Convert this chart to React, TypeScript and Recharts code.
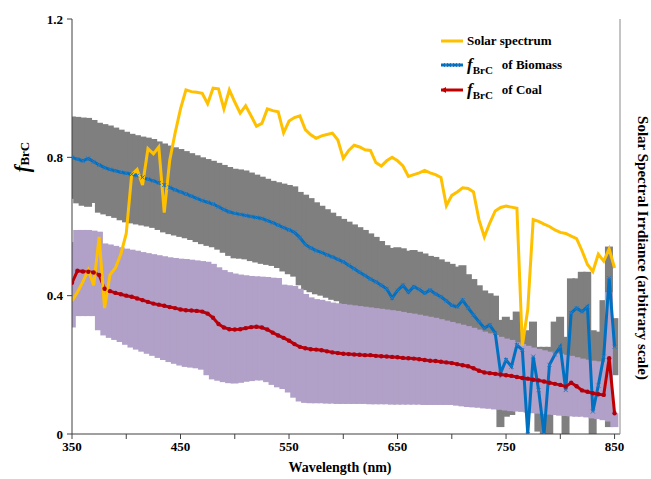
import { ComposedChart, Bar, Line, XAxis, YAxis } from 'recharts'

// wavelength grid (nm)
const WAVELENGTHS = [
  350, 355, 360, 365, 370, 375, 380, 385, 390, 395, 400, 405, 410, 415, 420, 425, 430, 435, 440, 445,
  450, 455, 460, 465, 470, 475, 480, 485, 490, 495, 500, 505, 510, 515, 520, 525, 530, 535, 540, 545,
  550, 555, 560, 565, 570, 575, 580, 585, 590, 595, 600, 605, 610, 615, 620, 625, 630, 635, 640, 645,
  650, 655, 660, 665, 670, 675, 680, 685, 690, 695, 700, 705, 710, 715, 720, 725, 730, 735, 740, 745,
  750, 755, 760, 765, 770, 775, 780, 785, 790, 795, 800, 805, 810, 815, 820, 825, 830, 835, 840, 845,
  850,
]

// solar spectrum, arbitrary scale (right axis)
const SOLAR = [
  0.385, 0.41, 0.44, 0.474, 0.43, 0.57, 0.364, 0.46, 0.48, 0.52, 0.58, 0.75, 0.765, 0.72, 0.825, 0.81, 0.83, 0.64, 0.79, 0.87,
  0.94, 0.995, 0.99, 0.988, 0.985, 0.955, 1.0, 0.998, 0.94, 0.995, 0.96, 0.928, 0.949, 0.92, 0.89, 0.898, 0.94, 0.935, 0.932, 0.871,
  0.905, 0.915, 0.92, 0.88, 0.865, 0.855, 0.862, 0.866, 0.87, 0.85, 0.797, 0.82, 0.835, 0.83, 0.822, 0.82, 0.785, 0.775, 0.79, 0.8,
  0.79, 0.775, 0.745, 0.75, 0.755, 0.762, 0.755, 0.75, 0.742, 0.66, 0.69, 0.7, 0.712, 0.71, 0.7, 0.62, 0.57, 0.61, 0.645, 0.655,
  0.659, 0.656, 0.653, 0.255, 0.36, 0.62, 0.615, 0.607, 0.6, 0.59, 0.583, 0.58, 0.572, 0.565, 0.53, 0.49, 0.47, 0.52, 0.5, 0.535,
  0.48,
]

// fBrC of biomass
const BIOMASS = [
  0.8, 0.795, 0.79, 0.797, 0.787, 0.778, 0.77, 0.765, 0.761, 0.757, 0.754, 0.751, 0.747, 0.742, 0.737, 0.732, 0.726, 0.72, 0.713, 0.706,
  0.7, 0.694, 0.688, 0.681, 0.675, 0.67, 0.665, 0.657, 0.649, 0.642, 0.638, 0.635, 0.632, 0.629, 0.626, 0.623, 0.617, 0.611, 0.604, 0.597,
  0.59, 0.583, 0.568, 0.548, 0.538, 0.53, 0.525, 0.518, 0.512, 0.505, 0.498, 0.488, 0.478, 0.468, 0.458, 0.448, 0.44, 0.43, 0.42, 0.393,
  0.415, 0.43, 0.41, 0.426, 0.418, 0.407, 0.416, 0.405, 0.397, 0.385, 0.372, 0.368, 0.387, 0.365, 0.344, 0.325, 0.306, 0.315, 0.292, 0.176,
  0.214, 0.195, 0.257, 0.243, 0.0, 0.224, 0.127, 0.0, 0.2, 0.23, 0.252, 0.127, 0.35, 0.364, 0.354, 0.368, 0.065, 0.14, 0.224, 0.451,
  0.252,
]

// fBrC of coal
const COAL = [
  0.437, 0.472, 0.47, 0.469, 0.467, 0.46, 0.42, 0.413, 0.408, 0.404, 0.4, 0.397, 0.392, 0.387, 0.382, 0.377, 0.374, 0.371, 0.367, 0.364,
  0.36, 0.358, 0.357, 0.356, 0.354, 0.348, 0.336, 0.318, 0.308, 0.303, 0.302, 0.303, 0.306, 0.309, 0.31, 0.308, 0.302, 0.293, 0.285, 0.278,
  0.27, 0.26, 0.252, 0.248, 0.245, 0.244, 0.242, 0.239, 0.236, 0.234, 0.232, 0.231, 0.23, 0.229, 0.228, 0.228, 0.226, 0.225, 0.224, 0.223,
  0.222, 0.22, 0.219, 0.218, 0.216, 0.214, 0.212, 0.211, 0.209, 0.207, 0.205, 0.202, 0.199, 0.196, 0.19, 0.183, 0.178, 0.176, 0.174, 0.172,
  0.17, 0.168, 0.165, 0.162, 0.16, 0.157, 0.155, 0.152, 0.148, 0.145, 0.142, 0.137, 0.148, 0.138, 0.126, 0.122, 0.118, 0.115, 0.113, 0.219,
  0.06,
]

// uncertainty range of biomass (grey)
const BIOMASS_HIGH = [
  0.918, 0.917, 0.915, 0.914, 0.908, 0.9, 0.896, 0.892, 0.886, 0.88, 0.874, 0.868, 0.864, 0.86, 0.857, 0.853, 0.846, 0.84, 0.834, 0.829,
  0.824, 0.818, 0.812, 0.806, 0.8, 0.795, 0.79, 0.784, 0.778, 0.772, 0.767, 0.765, 0.762, 0.756, 0.75, 0.744, 0.738, 0.732, 0.728, 0.724,
  0.72, 0.716, 0.7, 0.692, 0.682, 0.67, 0.66, 0.65, 0.64, 0.63, 0.622, 0.614, 0.606, 0.598, 0.59, 0.58, 0.57, 0.558, 0.546, 0.538,
  0.54, 0.537, 0.53, 0.532, 0.527, 0.522, 0.515, 0.512, 0.505, 0.498, 0.492, 0.484, 0.488, 0.462, 0.448, 0.43, 0.415, 0.407, 0.4, 0.33,
  0.339, 0.33, 0.354, 0.3, 0.3, 0.325, 0.252, 0.252, 0.252, 0.325, 0.339, 0.281, 0.45, 0.45, 0.469, 0.469, 0.3, 0.296, 0.387, 0.542,
  0.335,
]
const BIOMASS_LOW = [
  0.68, 0.667, 0.66, 0.657, 0.668, 0.64, 0.635, 0.63, 0.625, 0.618, 0.612, 0.609, 0.606, 0.603, 0.6, 0.596, 0.59, 0.583, 0.578, 0.574,
  0.57, 0.566, 0.561, 0.555, 0.549, 0.544, 0.54, 0.533, 0.524, 0.515, 0.508, 0.507, 0.505, 0.5, 0.496, 0.492, 0.489, 0.486, 0.48, 0.47,
  0.462, 0.455, 0.43, 0.416, 0.41, 0.404, 0.4, 0.394, 0.388, 0.384, 0.36, 0.356, 0.352, 0.348, 0.344, 0.34, 0.336, 0.332, 0.328, 0.324,
  0.32, 0.316, 0.312, 0.308, 0.304, 0.3, 0.296, 0.292, 0.286, 0.28, 0.274, 0.268, 0.262, 0.256, 0.25, 0.244, 0.238, 0.232, 0.226, 0.02,
  0.05, 0.055, 0.12, 0.12, 0.1, 0.1, 0.007, 0.0, 0.0, 0.1, 0.1, 0.0, 0.1, 0.1, 0.1, 0.1, 0.0, 0.1, 0.1, 0.02,
  0.17,
]

// uncertainty range of coal (lavender)
const COAL_HIGH = [
  0.555, 0.59, 0.59, 0.59, 0.588, 0.585, 0.551, 0.548, 0.544, 0.54, 0.536, 0.533, 0.53, 0.526, 0.523, 0.52, 0.517, 0.514, 0.511, 0.509,
  0.507, 0.506, 0.504, 0.502, 0.5, 0.498, 0.492, 0.482, 0.474, 0.468, 0.464, 0.461, 0.459, 0.457, 0.456, 0.455, 0.454, 0.452, 0.451, 0.432,
  0.43, 0.428, 0.42, 0.405, 0.395, 0.39, 0.388, 0.384, 0.38, 0.378, 0.376, 0.374, 0.372, 0.37, 0.368, 0.366, 0.364, 0.362, 0.36, 0.358,
  0.356, 0.353, 0.35, 0.348, 0.345, 0.342, 0.339, 0.336, 0.332, 0.328, 0.324, 0.32, 0.316, 0.312, 0.307, 0.302, 0.296, 0.291, 0.286, 0.281,
  0.276, 0.272, 0.265, 0.26, 0.255, 0.25, 0.246, 0.242, 0.238, 0.235, 0.232, 0.229, 0.226, 0.222, 0.218, 0.215, 0.212, 0.21, 0.208, 0.41,
  0.06,
]
const COAL_LOW = [
  0.308, 0.341, 0.341, 0.341, 0.341, 0.3, 0.285, 0.278, 0.272, 0.266, 0.258, 0.25, 0.244, 0.238, 0.232, 0.226, 0.22, 0.214, 0.208, 0.203,
  0.198, 0.194, 0.192, 0.19, 0.186, 0.17, 0.158, 0.154, 0.15, 0.147, 0.146, 0.148, 0.151, 0.153, 0.155, 0.155, 0.15, 0.142, 0.135, 0.13,
  0.12, 0.105, 0.094, 0.09, 0.089, 0.089, 0.089, 0.088, 0.088, 0.087, 0.087, 0.087, 0.087, 0.087, 0.087, 0.086, 0.086, 0.086, 0.086, 0.085,
  0.085, 0.085, 0.085, 0.085, 0.085, 0.084, 0.084, 0.084, 0.084, 0.084, 0.084, 0.082, 0.08, 0.078, 0.077, 0.076, 0.074, 0.073, 0.071, 0.07,
  0.068, 0.066, 0.065, 0.064, 0.062, 0.06, 0.059, 0.058, 0.056, 0.055, 0.053, 0.052, 0.051, 0.05, 0.05, 0.048, 0.045, 0.043, 0.04, 0.036,
  0.02,
]

const X_TICKS = [350, 400, 450, 500, 550, 600, 650, 700, 750, 800, 850]
const Y_TICKS = [0, 0.4, 0.8, 1.2]

const data = WAVELENGTHS.map((w, i) => ({
  w,
  solar: SOLAR[i],
  biomass: BIOMASS[i],
  coal: COAL[i],
  biomassBand: [BIOMASS_LOW[i], BIOMASS_HIGH[i]],
  coalBand: [COAL_LOW[i], COAL_HIGH[i]],
}))

const SERIF = "'Liberation Serif', 'Times New Roman', serif"
const tickStyle = { fill: '#000', fontSize: 13, fontWeight: 700, fontFamily: SERIF }

const BLUE = '#0070C0'
const RED = '#C00000'
const YELLOW = '#FFC000'
const GREY = '#7F7F7F'
const LAVENDER = '#B1A0C7'

// band bars are widened a little so neighbouring steps join without gaps
const BandShape = (props: any) => {
  const { x, y, width, height, fill, index } = props
  if (x == null || y == null || !height) return <g key={index} />
  const top = Math.min(y, y + height)
  return <rect key={index} x={x - 1.5} y={top} width={width + 3} height={Math.abs(height)} fill={fill} />
}

const CrossDot = (props: any) => {
  const { cx, cy, index } = props
  if (cx == null || cy == null) return <g key={index} />
  const s = 2
  return (
    <path
      key={index}
      d={`M${cx - s},${cy - s}L${cx + s},${cy + s}M${cx - s},${cy + s}L${cx + s},${cy - s}`}
      stroke="#2B78C2"
      strokeWidth={1}
    />
  )
}

const RoundDot = (props: any) => {
  const { cx, cy, index } = props
  if (cx == null || cy == null) return <g key={index} />
  return <circle key={index} cx={cx} cy={cy} r={2.2} fill="#B00010" />
}

const FBrC = ({ size = 17, sub = 11, shift = 3.5 }: { size?: number; sub?: number; shift?: number }) => (
  <span style={{ fontFamily: SERIF, fontWeight: 700 }}>
    <i style={{ fontSize: size }}>f</i>
    <span style={{ fontSize: sub, position: 'relative', top: shift }}>BrC</span>
  </span>
)

const LegendRow = ({ top, color, kind, children }: any) => (
  <div
    style={{
      position: 'absolute',
      left: 440,
      top,
      height: 18,
      display: 'flex',
      alignItems: 'center',
      whiteSpace: 'nowrap',
    }}
  >
    <svg width={24} height={10} style={{ marginRight: 3 }}>
      <line x1={1} y1={5} x2={23} y2={5} stroke={color} strokeWidth={3} />
      {kind === 'cross' &&
        [6, 12, 18].map(x => (
          <path key={x} d={`M${x - 2},3L${x + 2},7M${x - 2},7L${x + 2},3`} stroke="#2B78C2" strokeWidth={1} />
        ))}
      {kind === 'round' && <path d="M1,5L6,2L6,8Z" fill={color} />}
    </svg>
    {children}
  </div>
)

export default function App() {
  return (
    <div style={{ position: 'absolute', left: 0, top: 0, width: 651, height: 479, background: '#fff' }}>
      <ComposedChart
        width={651}
        height={479}
        data={data}
        margin={{ top: 19, right: 30, bottom: 0, left: 20 }}
        barCategoryGap={0}
      >
        <XAxis
          xAxisId="b"
          dataKey="w"
          type="number"
          domain={[350, 855]}
          ticks={X_TICKS}
          tickFormatter={(v: number) => (v % 100 === 50 ? String(v) : '')}
          tick={tickStyle}
          tickSize={5}
          tickMargin={3}
          stroke="#404040"
          height={45}
          allowDataOverflow
        />
        {/* hidden twin axis so the two band series are not grouped side by side */}
        <XAxis xAxisId="b2" dataKey="w" type="number" domain={[350, 855]} hide allowDataOverflow />
        <XAxis
          xAxisId="t"
          orientation="top"
          dataKey="w"
          type="number"
          domain={[350, 855]}
          tick={false}
          tickLine={false}
          height={0}
          stroke="#8a8a8a"
          allowDataOverflow
        />
        <YAxis
          yAxisId="l"
          domain={[0, 1.2]}
          ticks={Y_TICKS}
          tickFormatter={(v: number) => (v === 0 ? '0' : v.toFixed(1))}
          tick={tickStyle}
          tickSize={5}
          tickMargin={4}
          stroke="#404040"
          width={52}
          allowDataOverflow
        />
        <YAxis
          yAxisId="r"
          orientation="right"
          domain={[0, 1.2]}
          tick={false}
          tickLine={false}
          stroke="#8a8a8a"
          width={1}
          allowDataOverflow
        />
        <Bar
          xAxisId="b"
          yAxisId="l"
          dataKey="biomassBand"
          fill={GREY}
          shape={BandShape}
          activeBar={false}
          isAnimationActive={false}
        />
        <Bar
          xAxisId="b2"
          yAxisId="l"
          dataKey="coalBand"
          fill={LAVENDER}
          shape={BandShape}
          activeBar={false}
          isAnimationActive={false}
        />
        <Line
          xAxisId="b"
          yAxisId="l"
          type="linear"
          dataKey="biomass"
          stroke={BLUE}
          strokeWidth={3}
          dot={CrossDot}
          activeDot={false}
          isAnimationActive={false}
        />
        <Line
          xAxisId="b"
          yAxisId="l"
          type="linear"
          dataKey="coal"
          stroke={RED}
          strokeWidth={3}
          dot={RoundDot}
          activeDot={false}
          isAnimationActive={false}
        />
        <Line
          xAxisId="b"
          yAxisId="r"
          type="linear"
          dataKey="solar"
          stroke={YELLOW}
          strokeWidth={3}
          dot={false}
          activeDot={false}
          isAnimationActive={false}
        />
      </ComposedChart>

      {/* legend */}
      <LegendRow top={32} color={YELLOW} kind="line">
        <span style={{ fontFamily: SERIF, fontWeight: 700, fontSize: 13 }}>Solar spectrum</span>
      </LegendRow>
      <LegendRow top={56} color={BLUE} kind="cross">
        <FBrC />
        <span style={{ fontFamily: SERIF, fontWeight: 700, fontSize: 13, marginLeft: 9 }}>of Biomass</span>
      </LegendRow>
      <LegendRow top={81} color={RED} kind="round">
        <FBrC />
        <span style={{ fontFamily: SERIF, fontWeight: 700, fontSize: 13, marginLeft: 9 }}>of Coal</span>
      </LegendRow>

      {/* axis titles */}
      <div
        style={{
          position: 'absolute',
          left: 22,
          top: 157,
          transform: 'translate(-50%, -50%) rotate(-90deg)',
          whiteSpace: 'nowrap',
        }}
      >
        <FBrC size={20} sub={13} shift={0} />
      </div>
      <div
        style={{
          position: 'absolute',
          left: 642,
          top: 248,
          transform: 'translate(-50%, -50%) rotate(90deg)',
          whiteSpace: 'nowrap',
          fontFamily: SERIF,
          fontWeight: 700,
          fontSize: 15,
          lineHeight: '15px',
        }}
      >
        Solar Spectral Irrdiance (arbitrary scale)
      </div>
      <div
        style={{
          position: 'absolute',
          left: 340,
          top: 468,
          transform: 'translate(-50%, -50%)',
          whiteSpace: 'nowrap',
          fontFamily: SERIF,
          fontWeight: 700,
          fontSize: 14,
        }}
      >
        Wavelength (nm)
      </div>
    </div>
  )
}
